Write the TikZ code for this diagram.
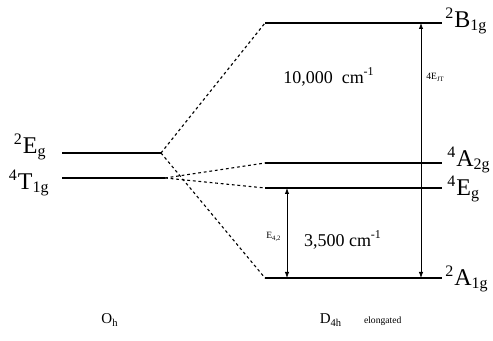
\documentclass[tikz,border=0pt]{standalone}
\usepackage{fontspec}
\setmainfont{Liberation Serif}
\usetikzlibrary{arrows.meta, positioning}

\begin{document}
\begin{tikzpicture}[x=0.5pt, y=-0.5pt,
  level/.style={line width=1.3pt},
  corr/.style={dash pattern=on 1.4pt off 1.4pt, line width=0.55pt},
  gap/.style={{Latex[length=3pt,width=2.2pt]}-{Latex[length=3pt,width=2.2pt]}, line width=0.4pt},
  term/.style={font=\fontsize{12}{13}\selectfont, inner sep=1pt},
  val/.style={font=\fontsize{9}{10}\selectfont, inner sep=1pt},
  small/.style={font=\fontsize{4.8}{5}\selectfont, inner sep=1pt},
  grp/.style={font=\fontsize{7.5}{9}\selectfont, inner sep=1pt}
]
\useasboundingbox (0,0) rectangle (493,341);
% O_h levels
\coordinate (EgL) at (62,153);   \coordinate (EgR) at (161,153);
\coordinate (TL) at (62,178);    \coordinate (TR) at (165,178);
% D4h levels
\coordinate (BL) at (265,23);    \coordinate (BR) at (442,23);
\coordinate (AL) at (265,163);   \coordinate (AR) at (442,163);
\coordinate (EL) at (265,188);   \coordinate (ER) at (442,188);
\coordinate (A1L) at (265,278);  \coordinate (A1R) at (442,278);
\foreach \a/\b in {EgL/EgR, TL/TR, BL/BR, AL/AR, EL/ER, A1L/A1R}{\draw[level] (\a) -- (\b);}
% correlation lines
\foreach \a/\b in {EgR/BL, EgR/A1L, TR/AL, TR/EL}{\draw[corr] (\a) -- (\b);}
% term symbols
\node[term, anchor=east] (eg) at (49,147) {\textsuperscript{2}E\textsubscript{g}};
\node[term, anchor=east] (t1g) at (52,183) {\textsuperscript{4}T\textsubscript{1g}};
\node[term, anchor=west] (b1g) at (443,21) {\textsuperscript{2}B\textsubscript{1g}};
\node[term, anchor=west] (a2g) at (445,160) {\textsuperscript{4}A\textsubscript{2g}};
\node[term, anchor=west] (egD) at (445,189) {\textsuperscript{4}E\textsubscript{g}};
\node[term, anchor=west] (a1g) at (443,279) {\textsuperscript{2}A\textsubscript{1g}};
% splittings
\coordinate (jtTop) at (421,23);  \coordinate (jtBot) at (421,278);
\coordinate (etTop) at (287,188); \coordinate (etBot) at (287,278);
\draw[gap] (jtBot) -- (jtTop);
\draw[gap] (etBot) -- (etTop);
\node[val] (big) at (329,77) {10,000~~cm\textsuperscript{-1}};
\node[small, anchor=west] (ejt) at (424,77) {4E\textsubscript{JT}};
\node[val] (sml) at (343,240) {3,500 cm\textsuperscript{-1}};
\node[small, anchor=east] (e42) at (284,237) {E\textsubscript{4,2}};
% point groups
\node[grp] (oh) at (110,320) {O\textsubscript{h}};
\node[grp] (d4h) at (331,320) {D\textsubscript{4h}};
\node[small, right=3mm of d4h.base east, anchor=base west] (elong) {elongated};
\end{tikzpicture}
\end{document}
